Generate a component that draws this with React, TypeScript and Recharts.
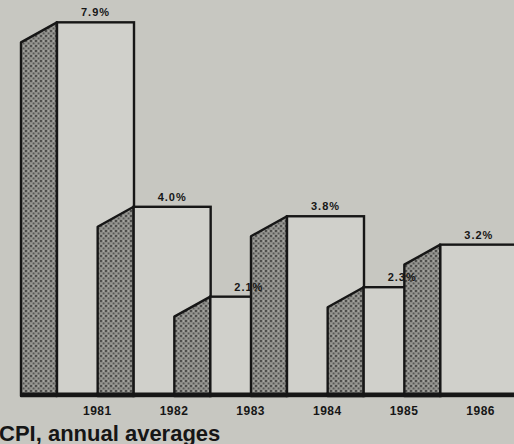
import React from 'react';
import { BarChart, Bar, XAxis, YAxis, LabelList } from 'recharts';

const years = ['1981', '1982', '1983', '1984', '1985', '1986'];
const cpi = [7.9, 4.0, 2.1, 3.8, 2.3, 3.2];
const yDomain = [0, 8];
const title = 'CPI, annual averages';

const data = years.map((year, i) => ({ year, cpi: cpi[i] }));

const BG = '#c7c7c1';
const FRONT = '#d0d0cb';
const INK = '#161616';

function Bar3D(props: any) {
  const { x, y, width, height } = props;
  const depth = 36;
  const rise = 20;
  const bottom = y + height;
  return (
    <g>
      <path
        d={`M${x - depth},${bottom} L${x - depth},${y + rise} L${x},${y} L${x},${bottom} Z`}
        fill="url(#stip)"
        stroke={INK}
        strokeWidth={2.4}
        strokeLinejoin="round"
      />
      <rect x={x} y={y} width={width} height={height} fill={FRONT} stroke={INK} strokeWidth={2.4} />
      <line x1={x - depth - 1} y1={bottom - 2} x2={x + width + 1} y2={bottom - 2} stroke={INK} strokeWidth={3} />
    </g>
  );
}

function YearTick(props: any) {
  const { x, y, payload } = props;
  return (
    <text x={x + 2} y={y} dy={11} textAnchor="middle" fill={INK} fontSize={12} fontWeight="bold" fontFamily="Liberation Sans, Arial, sans-serif" letterSpacing={0.5}>
      {payload.value}
    </text>
  );
}

export default function App() {
  return (
    <div style={{ position: 'absolute', left: 0, top: 0, width: 514, height: 444, overflow: 'hidden', background: BG }}>
      <svg width={0} height={0} style={{ position: 'absolute' }}>
        <defs>
          <pattern id="stip" width={5} height={5} patternUnits="userSpaceOnUse">
            <rect width={5} height={5} fill="#8a8a86" />
            <circle cx={1} cy={1} r={1.1} fill="#474745" />
            <circle cx={3.6} cy={3.4} r={0.9} fill="#575755" />
            <circle cx={3.6} cy={1} r={0.7} fill="#b3b3ae" />
            <circle cx={1.2} cy={3.8} r={0.6} fill="#a5a5a0" />
          </pattern>
        </defs>
      </svg>
      <BarChart
        width={520}
        height={444}
        data={data}
        margin={{ top: 17.6, right: 3, bottom: 18, left: 57 }}
        barCategoryGap={0}
        barGap={0}
      >
        <XAxis dataKey="year" height={30} axisLine={false} tickLine={false} tick={<YearTick />} interval={0} />
        <YAxis hide domain={yDomain} />
        <Bar dataKey="cpi" shape={<Bar3D />} isAnimationActive={false}>
          <LabelList
            dataKey="cpi"
            position="top"
            offset={6}
            formatter={(v: any) => `${Number(v).toFixed(1)}%`}
            fill={INK}
            fontSize={11}
            fontWeight="bold"
            fontFamily="Liberation Sans, Arial, sans-serif"
            letterSpacing={1}
          />
        </Bar>
      </BarChart>
      <svg width={514} height={444} style={{ position: 'absolute', left: 0, top: 0, pointerEvents: 'none' }}>
        <text x={-1} y={441} fontSize={22} fontWeight="bold" fill={INK} fontFamily="Liberation Sans, Arial, sans-serif">
          {title}
        </text>
      </svg>
    </div>
  );
}
